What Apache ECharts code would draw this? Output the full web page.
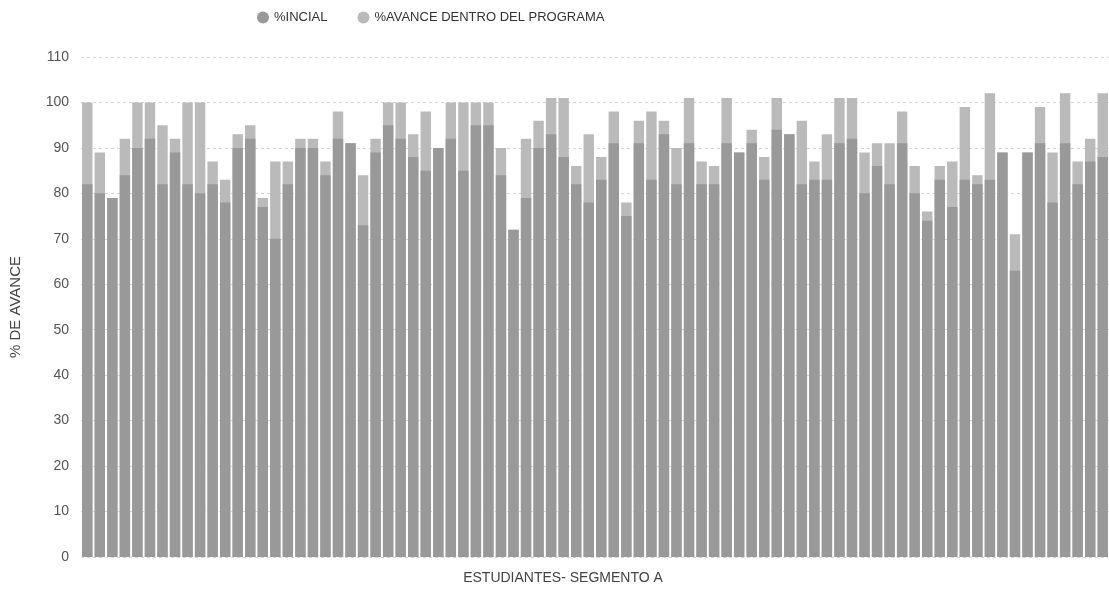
<!DOCTYPE html>
<html>
<head>
<meta charset="utf-8">
<script src="https://cdn.jsdelivr.net/npm/echarts@6/dist/echarts.min.js"></script>
<style>
html,body{margin:0;padding:0;background:#fff;}
#chart{width:1109px;height:590px;}
</style>
</head>
<body>
<div id="chart"></div>
<script>
// ---- data ----
const seriesNames = ['%INCIAL', '%AVANCE DENTRO DEL PROGRAMA'];
const yTicks = [0, 10, 20, 30, 40, 50, 60, 70, 80, 90, 100, 110];
const inicial = [
  82, 80, 79, 84, 90, 92, 82, 89, 82, 80,
  82, 78, 90, 92, 77, 70, 82, 90, 90, 84,
  92, 91, 73, 89, 95, 92, 88, 85, 90, 92,
  85, 95, 95, 84, 72, 79, 90, 93, 88, 82,
  78, 83, 91, 75, 91, 83, 93, 82, 91, 82,
  82, 91, 89, 91, 83, 94, 93, 82, 83, 83,
  91, 92, 80, 86, 82, 91, 80, 74, 83, 77,
  83, 82, 83, 89, 63, 89, 91, 78, 91, 82,
  87, 88
];
const avance = [
  100, 89, 79, 92, 100, 100, 95, 92, 100, 100,
  87, 83, 93, 95, 79, 87, 87, 92, 92, 87,
  98, 91, 84, 92, 100, 100, 93, 98, 90, 100,
  100, 100, 100, 90, 72, 92, 96, 101, 101, 86,
  93, 88, 98, 78, 96, 98, 96, 90, 101, 87,
  86, 101, 89, 94, 88, 101, 93, 96, 87, 93,
  101, 101, 89, 91, 91, 98, 86, 76, 86, 87,
  99, 84, 102, 89, 71, 89, 99, 89, 102, 87,
  92, 102
];
const categories = avance.map((_, i) => 'E' + (i + 1));

const FONT = '"Liberation Sans", Arial, sans-serif';
const chart = echarts.init(document.getElementById('chart'), null, {renderer: 'canvas'});
chart.setOption({
  animation: false,
  backgroundColor: '#ffffff',
  legend: {
    data: seriesNames,
    left: 252,
    top: 6,
    icon: 'circle',
    itemWidth: 12,
    itemHeight: 12,
    itemGap: 30,
    textStyle: {fontFamily: FONT, fontSize: 13, color: '#333'}
  },
  grid: {left: 79, right: -6, top: 57, bottom: 30, containLabel: false},
  xAxis: {
    type: 'category',
    data: categories,
    name: 'ESTUDIANTES- SEGMENTO A',
    nameLocation: 'middle',
    nameGap: 14,
    nameTextStyle: {fontFamily: FONT, fontSize: 14, color: '#444', padding: [0, 64, 0, 0]},
    axisLine: {show: false},
    axisTick: {show: false},
    axisLabel: {show: false}
  },
  yAxis: {
    type: 'value',
    min: 0,
    max: 110,
    interval: 10,
    name: '% DE AVANCE',
    nameLocation: 'middle',
    nameGap: 58,
    nameTextStyle: {fontFamily: FONT, fontSize: 15, color: '#444'},
    axisLine: {show: false},
    axisTick: {show: false},
    axisLabel: {
      fontFamily: FONT, fontSize: 14, color: '#555', margin: 12,
      formatter: v => yTicks.includes(v) ? String(v) : ''
    },
    splitLine: {show: true, lineStyle: {color: '#d4d4d4', type: [3, 3], width: 1}}
  },
  series: [
    {
      name: seriesNames[1],
      type: 'bar',
      data: avance,
      barCategoryGap: '17%',
      barGap: '-100%',
      itemStyle: {color: '#bababa'},
      z: 2
    },
    {
      name: seriesNames[0],
      type: 'bar',
      data: inicial,
      barCategoryGap: '17%',
      barGap: '-100%',
      itemStyle: {color: '#999999'},
      z: 3
    }
  ]
});
</script>
</body>
</html>
